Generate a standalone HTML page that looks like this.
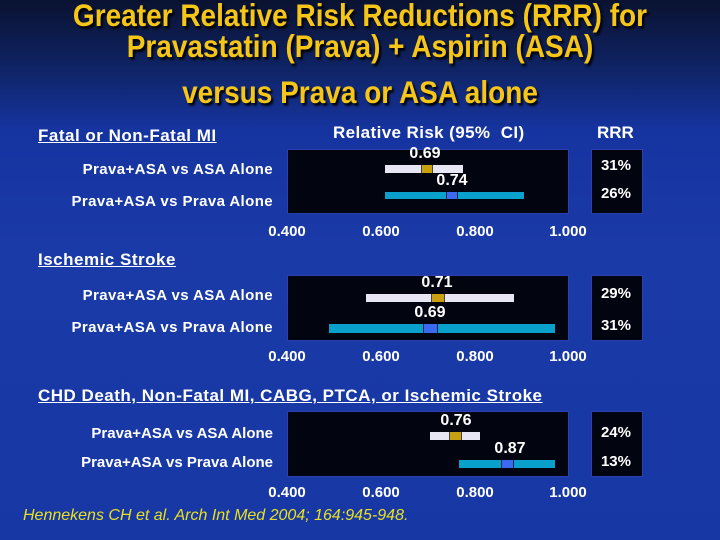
<!DOCTYPE html>
<html><head><style>
body{margin:0;width:720px;height:540px;overflow:hidden;font-family:"Liberation Sans",Arial,sans-serif;font-weight:bold;color:#fff;
background:linear-gradient(180deg,#0a1230 0px,#0f2466 70px,#1634a0 130px,#1a3aa8 250px,#1737a5 540px);position:relative}
.a{position:absolute;white-space:nowrap}
.t{color:#f5c518;font-size:28px;text-align:center;width:720px;left:0;text-shadow:2px 2px 2px #000;transform:scaleY(1.12)}
.h{font-size:17px;text-decoration:underline;left:38px;letter-spacing:0.5px}
.r{font-size:15px;right:447px;text-align:right;letter-spacing:0.4px}
.box{position:absolute;background:#02040f;border:1px solid #2a3fb0;box-sizing:border-box}
.bar{position:absolute}
.w{background:#e6e6f5}.g{background:#c8a010;border-left:1px solid #444;border-right:1px solid #444}
.c{background:#0aa0cc}.b{background:#3a6af0;border-left:1px solid #224;border-right:1px solid #224}
.v{font-size:16px;transform:translateX(-50%)}
.k{font-size:15px;transform:translateX(-50%)}
.p{font-size:15px;right:89px}
</style></head><body>
<div class="a t" style="top:0px">Greater Relative Risk Reductions (RRR) for</div>
<div class="a t" style="top:31px">Pravastatin (Prava) + Aspirin (ASA)</div>
<div class="a t" style="top:77px">versus Prava or ASA alone</div>

<div class="a" style="left:333px;top:123px;font-size:17px;letter-spacing:0.4px">Relative Risk (95% &nbsp;CI)</div>
<div class="a" style="left:597px;top:123px;font-size:17px">RRR</div>

<!-- section 1 -->
<div class="a h" style="top:126px">Fatal or Non-Fatal MI</div>
<div class="a r" style="top:161px">Prava+ASA vs ASA Alone</div>
<div class="a r" style="top:193px">Prava+ASA vs Prava Alone</div>
<div class="box" style="left:287px;top:149px;width:282px;height:65px"></div>
<div class="box" style="left:591px;top:149px;width:52px;height:65px"></div>
<div class="bar w" style="left:385px;top:165px;width:78px;height:8px"></div>
<div class="bar g" style="left:421px;top:165px;width:10px;height:8px"></div>
<div class="bar c" style="left:385px;top:192px;width:139px;height:7px"></div>
<div class="bar b" style="left:446px;top:192px;width:10px;height:7px"></div>
<div class="a v" style="left:425px;top:145px">0.69</div>
<div class="a v" style="left:452px;top:172px">0.74</div>
<div class="a p" style="top:157px">31%</div>
<div class="a p" style="top:185px">26%</div>
<div class="a k" style="left:287px;top:223px">0.400</div>
<div class="a k" style="left:381px;top:223px">0.600</div>
<div class="a k" style="left:475px;top:223px">0.800</div>
<div class="a k" style="left:568px;top:223px">1.000</div>

<!-- section 2 -->
<div class="a h" style="top:250px">Ischemic Stroke</div>
<div class="a r" style="top:287px">Prava+ASA vs ASA Alone</div>
<div class="a r" style="top:319px">Prava+ASA vs Prava Alone</div>
<div class="box" style="left:287px;top:275px;width:282px;height:66px"></div>
<div class="box" style="left:591px;top:275px;width:52px;height:66px"></div>
<div class="bar w" style="left:366px;top:294px;width:148px;height:8px"></div>
<div class="bar g" style="left:431px;top:294px;width:12px;height:8px"></div>
<div class="bar c" style="left:329px;top:324px;width:226px;height:9px"></div>
<div class="bar b" style="left:423px;top:324px;width:13px;height:9px"></div>
<div class="a v" style="left:437px;top:274px">0.71</div>
<div class="a v" style="left:430px;top:304px">0.69</div>
<div class="a p" style="top:285px">29%</div>
<div class="a p" style="top:317px">31%</div>
<div class="a k" style="left:287px;top:348px">0.400</div>
<div class="a k" style="left:381px;top:348px">0.600</div>
<div class="a k" style="left:475px;top:348px">0.800</div>
<div class="a k" style="left:568px;top:348px">1.000</div>

<!-- section 3 -->
<div class="a h" style="top:386px">CHD Death, Non-Fatal MI, CABG, PTCA, or Ischemic Stroke</div>
<div class="a r" style="top:425px;letter-spacing:0">Prava+ASA vs ASA Alone</div>
<div class="a r" style="top:454px;letter-spacing:0">Prava+ASA vs Prava Alone</div>
<div class="box" style="left:287px;top:411px;width:282px;height:66px"></div>
<div class="box" style="left:591px;top:411px;width:52px;height:66px"></div>
<div class="bar w" style="left:430px;top:432px;width:50px;height:8px"></div>
<div class="bar g" style="left:449px;top:432px;width:11px;height:8px"></div>
<div class="bar c" style="left:459px;top:460px;width:96px;height:8px"></div>
<div class="bar b" style="left:501px;top:460px;width:11px;height:8px"></div>
<div class="a v" style="left:456px;top:412px">0.76</div>
<div class="a v" style="left:510px;top:440px">0.87</div>
<div class="a p" style="top:424px">24%</div>
<div class="a p" style="top:453px">13%</div>
<div class="a k" style="left:287px;top:484px">0.400</div>
<div class="a k" style="left:381px;top:484px">0.600</div>
<div class="a k" style="left:475px;top:484px">0.800</div>
<div class="a k" style="left:568px;top:484px">1.000</div>

<div class="a" style="left:23px;top:507px;font-size:16px;font-weight:normal;font-style:italic;color:#e8e020">Hennekens CH et al. Arch Int Med 2004; 164:945-948.</div>
</body></html>
